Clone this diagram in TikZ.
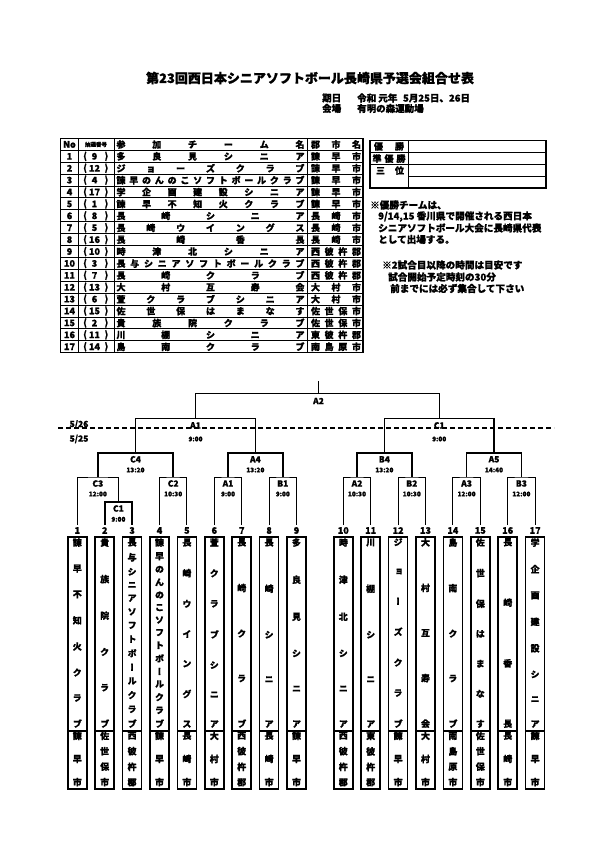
\documentclass[tikz,border=0pt]{standalone}
\usepackage{fontspec}
\setmainfont{Noto Sans CJK JP}[BoldFeatures={FakeBold=1}]
\newfontfamily\vjp{Noto Sans CJK JP}[RawFeature=+vert,BoldFeatures={FakeBold=1}]
\makeatletter
\let\sp@end\relax
\def\spreadh#1#2{\makebox[#1]{\edef\sp@arg{#2}\let\sp@sep\relax\expandafter\sp@loop\sp@arg\sp@end}}
\def\sp@loop#1{\ifx#1\sp@end\else\sp@sep#1\let\sp@sep\hfill\expandafter\sp@loop\fi}
\def\spreadv#1#2{\parbox[c][#1][s]{14pt}{\offinterlineskip\edef\sp@arg{#2}\let\sp@sep\relax\expandafter\sp@vloop\sp@arg\sp@end}}
\def\sp@vloop#1{\ifx#1\sp@end\else\sp@sep\hbox to 14pt{\hss#1\hss}\let\sp@sep\vfill\expandafter\sp@vloop\fi}
\makeatother
\begin{document}
\begin{tikzpicture}[x=1pt,y=-1pt,
  every node/.style={inner sep=0pt, font=\bfseries},
  ttl/.style={font=\bfseries\fontsize{13}{13}\selectfont},
  txt/.style={font=\bfseries\fontsize{9.5}{9.5}\selectfont, anchor=west},
  note/.style={font=\bfseries\fontsize{9.6}{9.6}\selectfont, anchor=west},
  tbl/.style={font=\bfseries\fontsize{9}{9}\selectfont},
  tinyl/.style={font=\bfseries\fontsize{5.5}{5.5}\selectfont},
  mlbl/.style={font=\bfseries\fontsize{8.5}{8.5}\selectfont},
  mtime/.style={font=\bfseries\fontsize{6.5}{6.5}\selectfont},
  pnum/.style={font=\bfseries\fontsize{9}{9}\selectfont},
  vt/.style={font=\vjp\bfseries\fontsize{9}{9}\selectfont},
  brk/.style={line width=0.9pt},
  brkb/.style={line width=1.6pt},
  frame/.style={line width=1.4pt},
  gridl/.style={line width=1pt},
  boxl/.style={line width=1.5pt},
  dline/.style={line width=1.3pt, dash pattern=on 5pt off 3pt},
]
\fill[white] (0,0) rectangle (595,842);
\useasboundingbox (0,0) rectangle (595,842);

% title block
\node[ttl] (title) at (310,78) {第23回西日本シニアソフトボール長崎県予選会組合せ表};
\node[txt] (dl) at (322,98) {期日};
\node[txt] (dv) at (357,98) {令和 元年\hspace{0.6em}5月25日、26日};
\node[txt] (vl) at (322,108.5) {会場};
\node[txt] (vv) at (357,108.5) {有明の森運動場};

% entry table
\draw[frame] (60.5,138.5) rectangle (363,352.7);
\foreach \k in {1,...,17} \draw[gridl] (60.5,{138.5+11.9*\k}) -- (363,{138.5+11.9*\k});
\foreach \xx in {78.5,114,307} \draw[gridl] (\xx,138.5) -- (\xx,352.7);
\node[tbl] (hno) at (69.5,144.45) {No};
\node[tinyl] (hdr) at (96,144.45) {抽選番号};
\node[tbl] (hteam) at (210.5,144.45) {\spreadh{188pt}{参加チーム名}};
\node[tbl] (hcity) at (336,144.45) {\spreadh{50pt}{郡市名}};
\foreach \n/\d/\t/\c [count=\i] in {
 1/9/多良見シニア/諫早市,
 2/12/ジョーズクラブ/諫早市,
 3/4/諫早のんのこソフトボールクラブ/諫早市,
 4/17/学企画建設シニア/諫早市,
 5/1/諫早不知火クラブ/諫早市,
 6/8/長崎シニア/長崎市,
 7/5/長崎ウイングス/長崎市,
 8/16/長崎香長/長崎市,
 9/10/時津北シニア/西彼杵郡,
 10/3/長与シニアソフトボールクラブ/西彼杵郡,
 11/7/長崎クラブ/西彼杵郡,
 12/13/大村互寿会/大村市,
 13/6/萱クラブシニア/大村市,
 14/15/佐世保はまなす/佐世保市,
 15/2/貴族院クラブ/佐世保市,
 16/11/川棚シニア/東彼杵郡,
 17/14/島南クラブ/南島原市}{
  \pgfmathsetmacro\yy{144.45+11.9*\i}
  \node[tbl] (no\i) at (69.5,\yy) {\n};
  \node[tbl] (lp\i) at (85,\yy) {(};
  \node[tbl] (dr\i) at (94.5,\yy) {\d};
  \node[tbl] (rp\i) at (106.5,\yy) {)};
  \node[tbl] (tm\i) at (210.5,\yy) {\spreadh{188pt}{\t}};
  \node[tbl] (ct\i) at (336,\yy) {\spreadh{50pt}{\c}};
}

% result box
\draw[frame] (370,140.5) rectangle (546,188);
\draw[gridl] (370,152.3) -- (546,152.3);
\draw[gridl] (370,165) -- (546,165);
\draw[gridl] (408,176.7) -- (546,176.7);
\draw[gridl] (408,140.5) -- (408,188);
\node[tbl] (win) at (389,146.4) {\spreadh{30pt}{優勝}};
\node[tbl] (second) at (389,158.6) {\spreadh{33pt}{準優勝}};
\node[tbl] (third) at (390,170.5) {\spreadh{28pt}{三位}};

% notes
\node[note] (n1) at (370,205) {※優勝チームは、};
\node[note] (n2) at (378,216.5) {9/14,15 香川県で開催される西日本};
\node[note] (n3) at (378,228) {シニアソフトボール大会に長崎県代表};
\node[note] (n4) at (378,239.5) {として出場する。};
\node[note] (n5) at (382,265) {※2試合目以降の時間は目安です};
\node[note] (n6) at (388,277) {試合開始予定時刻の30分};
\node[note] (n7) at (390,288.5) {前までには必ず集合して下さい};

% positions and team boxes
\foreach \t/\c [count=\i] in {
 諫早不知火クラブ/諫早市,
 貴族院クラブ/佐世保市,
 長与シニアソフトボールクラブ/西彼杵郡,
 諫早のんのこソフトボールクラブ/諫早市,
 長崎ウイングス/長崎市,
 萱クラブシニア/大村市,
 長崎クラブ/西彼杵郡,
 長崎シニア/長崎市,
 多良見シニア/諫早市,
 時津北シニア/西彼杵郡,
 川棚シニア/東彼杵郡,
 ジョーズクラブ/諫早市,
 大村互寿会/大村市,
 島南クラブ/南島原市,
 佐世保はまなす/佐世保市,
 長崎香長/長崎市,
 学企画建設シニア/諫早市}{
  \pgfmathsetmacro\px{\i<10 ? 77.3+27.4*(\i-1) : 343.3+27.4*(\i-10)}
  \coordinate (p\i) at (\px,525);
  \node[pnum] (num\i) at (\px,530.5) {\i};
  \draw[boxl] ({\px-9.5},537) rectangle ({\px+9.5},789);
  \draw[boxl] ({\px-9.5},731) -- ({\px+9.5},731);
  \node[vt] (team\i) at (\px,633) {\spreadv{189pt}{\t}};
  \node[vt] (city\i) at (\px,759) {\spreadv{54pt}{\c}};
}

% match points
\coordinate (mC1b) at (118.4,502);
\coordinate (mC3) at (97.85,477);
\coordinate (mC2) at (173.2,477);
\coordinate (mC4) at (135.5,453);
\coordinate (mA1b) at (228,477);
\coordinate (mB1) at (282.8,477);
\coordinate (mA4) at (255.4,453);
\coordinate (mA1t) at (195.5,418.4);
\coordinate (mA2b) at (357,477);
\coordinate (mB2) at (411.8,477);
\coordinate (mB4) at (384.4,453);
\coordinate (mA3) at (466.6,477);
\coordinate (mB3) at (521.4,477);
\coordinate (mA5) at (494,453);
\coordinate (mC1t) at (439.2,418.4);
\coordinate (mA2t) at (318.5,393.5);
\coordinate (top) at (318.5,380.5);

% bracket lines
\draw[brkb] (p2) |- (mC1b) -| (p3);
\draw[brk] (p1) |- (mC3) -| (mC1b);
\draw[brk] (p4) |- (mC2) -| (p5);
\draw[brkb] (mC3) |- (mC4) -| (mC2);
\draw[brk] (p6) |- (mA1b) -| (p7);
\draw[brk] (p8) |- (mB1) -| (p9);
\draw[brkb] (mA1b) |- (mA4) -| (mB1);
\draw[brk] (mC4) |- (mA1t) -| (mA4);
\draw[brk] (p10) |- (mA2b) -| (p11);
\draw[brk] (p12) |- (mB2) -| (p13);
\draw[brkb] (mA2b) |- (mB4) -| (mB2);
\draw[brk] (p14) |- (mA3) -| (p15);
\draw[brk] (p16) |- (mB3) -| (p17);
\draw[brkb] (mA3) |- (mA5) -| (mB3);
\draw[brkb] (mB4) |- (mC1t) -| (mA5);
\draw[brk] (mA1t) |- (mA2t) -| (mC1t);
\draw[brkb] (mA2t) -- (top);

% day separator
\coordinate (dsL) at (58,428);
\coordinate (dsR) at (554,428);
\draw[dline] (dsL) -- (dsR);
\node[mlbl] (d26) at (79,424.4) {5/26};
\node[mlbl] (d25) at (79,439) {5/25};

% match labels
\foreach \m/\lab/\tim/\dy/\dt in {
 mC1b/C1/9:00/6.5/17.3, mC3/C3/12:00/6.5/17, mC2/C2/10:30/6.5/17,
 mC4/C4/13:20/6.3/17, mA1b/A1/9:00/6.5/17, mB1/B1/9:00/6.5/17,
 mA4/A4/13:20/6.3/17, mA2b/A2/10:30/6.5/17, mB2/B2/10:30/6.5/17,
 mB4/B4/13:20/6.3/17, mA3/A3/12:00/6.5/17, mB3/B3/12:00/6.5/17,
 mA5/A5/14:40/6.3/17, mA1t/A1/9:00/7/20.6, mC1t/C1/9:00/7/20.6}{
  \node[mlbl] (l\m) at ([yshift=-\dy pt]\m) {\lab};
  \node[mtime] (t\m) at ([yshift=-\dt pt]\m) {\tim};
}
\node[mlbl] (lmA2t) at ([yshift=-7.5pt]mA2t) {A2};
\end{tikzpicture}
\end{document}
